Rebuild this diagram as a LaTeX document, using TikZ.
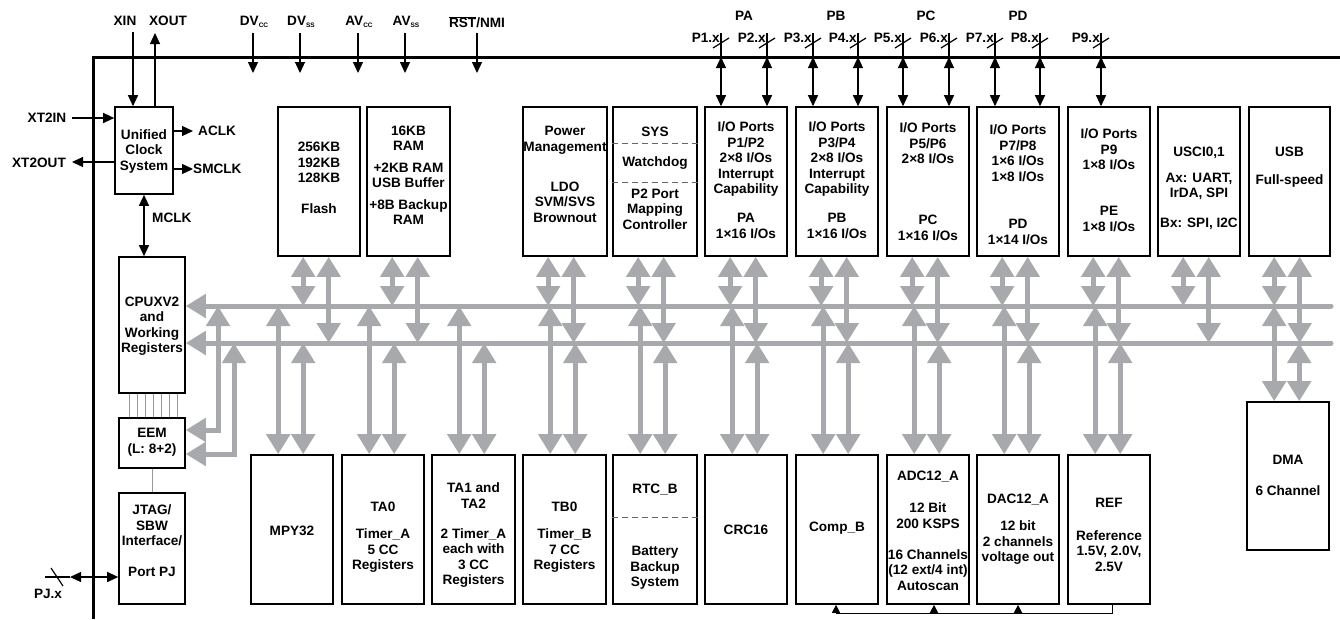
\documentclass[tikz,border=0pt]{standalone}
\usepackage{fontspec}
\setmainfont{Liberation Sans}
\usetikzlibrary{arrows.meta,fit,calc}
\definecolor{busgray}{RGB}{167,169,172}
\newcommand\subsc[1]{\raisebox{-2.5pt}{\fontsize{6.5}{7}\selectfont #1}}
\tikzset{
  bh/.tip={Triangle[width=23pt,length=20pt]},
  sh/.tip={Triangle[width=10pt,length=11pt]},
  th/.tip={Triangle[width=8pt,length=8pt]},
  blk/.style={draw=black, line width=1.6pt, inner sep=0pt},
  txt/.style={font=\fontsize{13.6}{15.5}\selectfont\bfseries, align=center, inner sep=0pt, text=black},
  busln/.style={draw=busgray, line width=5pt},
  busarr/.style={busln, {bh}-{bh}},
  sig/.style={draw=black, line width=1.2pt},
  sigarr/.style={sig, -{sh}},
  sigdbl/.style={sig, {sh}-{sh}},
  thinln/.style={draw=black, line width=1pt},
  thinarr/.style={thinln, -{th}},
  dsh/.style={draw=black!60, line width=1pt, dash pattern=on 6pt off 4pt},
  hair/.style={draw=black!40, line width=0.7pt},
}
\begin{document}
\begin{tikzpicture}[x=1pt,y=-1pt]
\useasboundingbox (0,0) rectangle (1340,619);
% outer border
\coordinate (bl) at (93,619); \coordinate (tr) at (1340,57);
\draw[line width=3pt] (bl) |- (tr);
\coordinate (brd) at (93,57);

% ---------- boxes ----------
\node[blk, fit={(115,107)(173,194)}] (clk) {};
\node[blk, fit={(119,257)(185,393)}] (cpu) {};
\node[blk, fit={(119,418)(185,468)}] (eem) {};
\node[blk, fit={(119,493)(185,604)}] (jtag) {};
\node[blk, fit={(278,107)(360,256)}] (flash) {};
\node[blk, fit={(367,107)(450,256)}] (ram) {};
\node[blk, fit={(523,107)(607,256)}] (pwr) {};
\node[blk, fit={(613,107)(697,256)}] (sys) {};
\node[blk, fit={(705,107)(787,256)}] (pa) {};
\node[blk, fit={(796,107)(878,256)}] (pb) {};
\node[blk, fit={(887,107)(969,256)}] (pc) {};
\node[blk, fit={(977,107)(1059,256)}] (pd) {};
\node[blk, fit={(1068,107)(1150,256)}] (pe) {};
\node[blk, fit={(1158,107)(1240,256)}] (usci) {};
\node[blk, fit={(1249,107)(1330,256)}] (usb) {};
\node[blk, fit={(251,455)(333,604)}] (mpy) {};
\node[blk, fit={(342,455)(424,604)}] (ta0) {};
\node[blk, fit={(432,455)(515,604)}] (ta1) {};
\node[blk, fit={(523,455)(606,604)}] (tb0) {};
\node[blk, fit={(613,455)(697,604)}] (rtc) {};
\node[blk, fit={(705,455)(787,604)}] (crc) {};
\node[blk, fit={(796,455)(878,604)}] (comp) {};
\node[blk, fit={(887,455)(969,604)}] (adc) {};
\node[blk, fit={(977,455)(1059,604)}] (dac) {};
\node[blk, fit={(1068,455)(1150,604)}] (ref) {};
\node[blk, fit={(1247,402)(1329,550)}] (dma) {};

% dashed separators
\draw[dsh] (sys.west |- 0,143) -- (sys.east |- 0,143);
\draw[dsh] (sys.west |- 0,182) -- (sys.east |- 0,182);
\draw[dsh] (rtc.west |- 0,517) -- (rtc.east |- 0,517);

% ---------- buses ----------
\coordinate (ub) at (1331,306);
\coordinate (lb) at (1331,343);
\draw[busln, line cap=round, -{bh}] (ub) -- (ub -| cpu.east);
\draw[busln, line cap=round, -{bh}] (lb) -- (lb -| cpu.east);
\foreach \b in {flash,ram,pwr,sys,pa,pb,pc,pd,pe,usci,usb}{
  \path ($(\b.south west)+(26,0)$) coordinate (\b-L) ($(\b.south west)+(51.5,0)$) coordinate (\b-R);
  \draw[busarr] (\b-L) -- (\b-L |- ub);
  \draw[busarr] (\b-R) -- (\b-R |- lb);
}
\foreach \b in {mpy,ta0,ta1,tb0,rtc,crc,comp,adc,dac,ref,dma}{
  \path ($(\b.north west)+(28,0)$) coordinate (\b-L) ($(\b.north west)+(53,0)$) coordinate (\b-R);
  \draw[busarr] (\b-L |- ub) -- (\b-L);
  \draw[busarr] (\b-R |- lb) -- (\b-R);
}
\coordinate (f1) at (218,430); \coordinate (f2) at (234,454);
\draw[busarr] (f1 |- ub) -- (f1) -- (f1 -| eem.east);
\draw[busarr] (f2 |- lb) -- (f2) -- (f2 -| eem.east);

% CPU - EEM - JTAG thin lines
\foreach \x in {129,137,145,153,161,169,177}
  \draw[hair] (\x,0 |- cpu.south) -- (\x,0 |- eem.north);
\draw[hair] (eem.south) -- (jtag.north);

% ---------- clock signals ----------
\coordinate (xin) at (133,32);  \draw[sigarr] (xin) -- (xin |- clk.north);
\coordinate (xout) at (155,33); \draw[sigarr] (xout |- clk.north) -- (xout);
\coordinate (xt2in) at (72,118);  \draw[sigarr] (xt2in) -- (xt2in -| clk.west);
\coordinate (xt2out) at (72,162); \draw[sigarr] (xt2out -| clk.west) -- (xt2out);
\coordinate (aclk) at (193,131);  \draw[sigarr] (aclk -| clk.east) -- (aclk);
\coordinate (smclk) at (193,169); \draw[sigarr] (smclk -| clk.east) -- (smclk);
\draw[sigdbl] (clk.south) -- (clk.south |- cpu.north);

\node[txt] (lxin) at (125,21) {XIN};
\node[txt] (lxout) at (168,21) {XOUT};
\node[txt] (lxt2in) at (47,118) {XT2IN};
\node[txt] (lxt2out) at (39,163) {XT2OUT};
\node[txt, anchor=west] (laclk) at (198,131) {ACLK};
\node[txt, anchor=west] (lsmclk) at (193,169) {SMCLK};
\node[txt, anchor=west] (lmclk) at (152,218) {MCLK};

% ---------- supply pins ----------
\coordinate (pintip) at (0,73);
\foreach \n/\x in {dvcc/253,dvss/300,avcc/358,avss/405,rst/477}{
  \coordinate (\n) at (\x,33);
  \draw[sigarr] (\n) -- (\n |- pintip);
}
\node[txt] (ldvcc) at (254,22) {DV\subsc{CC}};
\node[txt] (ldvss) at (301,22) {DV\subsc{SS}};
\node[txt] (lavcc) at (359,22) {AV\subsc{CC}};
\node[txt] (lavss) at (406,22) {AV\subsc{SS}};
\node[txt] (lrst) at (477,22) {$\overline{\mbox{RST}}$/NMI};

% ---------- ports ----------
\foreach \n/\x/\b in {P1/721/pa,P2/767/pa,P3/813/pb,P4/858/pb,P5/903/pc,P6/949/pc,P7/995/pd,P8/1040/pd,P9/1101/pe}{
  \coordinate (\n) at (\x,33);
  \draw[sig] (\n) -- (\n |- brd);
  \draw[sigdbl] (\n |- brd) -- (\n |- \b.north);
  \draw[sig] ($(\n)+(-8,15)$) -- ($(\n)+(8,5)$);
  \node[txt, anchor=east] (l\n) at ($(\n)+(-1,5)$) {\n.x};
}
\node[txt] (lpa) at (744,16) {PA};
\node[txt] (lpb) at (836,16) {PB};
\node[txt] (lpc) at (926,16) {PC};
\node[txt] (lpd) at (1018,16) {PD};

% PJ
\coordinate (pjx) at (45,577); \coordinate (pjt) at (70,577);
\draw[sig] (pjx) -- (pjt);
\draw[sigdbl] (pjt) -- (pjt -| jtag.west);
\draw[sig] (51,568) -- (63,586);
\node[txt] (lpj) at (48,594) {PJ.x};

% analog bus
\coordinate (ab) at (836,613); \coordinate (adcb) at (934,613);
\coordinate (dacb) at (1018,613); \coordinate (refb) at (1112,613);
\draw[thinln] (refb |- ref.south) -- (refb) -- (ab);
\draw[thinarr] (ab) -- (ab |- comp.south);
\draw[thinarr] (adcb) -- (adcb |- adc.south);
\draw[thinarr] (dacb) -- (dacb |- dac.south);

% ---------- box texts ----------
\node[txt] (tclk) at (144,151) {Unified\\Clock\\System};
\node[txt] (tcpu) at (152,326) {CPUXV2\\and\\Working\\Registers};
\node[txt] (teem) at (152,442) {EEM\\(L: 8+2)};
\node[txt] (tjtag) at (152,541) {JTAG/\\SBW\\Interface/\\[15.5pt]Port PJ};
\node[txt] (tflash) at (319,178) {256KB\\192KB\\128KB\\[15.5pt]Flash};
\node[txt] (tram) at (408.5,175) {16KB\\RAM\\[6pt]+2KB RAM\\USB Buffer\\[6pt]+8B Backup\\RAM};
\node[txt] (tpwr1) at (565,140.5) {Power\\Management};
\node[txt] (tpwr2) at (565,202) {LDO\\SVM/SVS\\Brownout};
\node[txt] (tsys1) at (655,132) {SYS};
\node[txt] (tsys2) at (655,163) {Watchdog};
\node[txt] (tsys3) at (655,209) {P2 Port\\Mapping\\Controller};
\node[txt] (tpa1) at (746,159) {I/O Ports\\P1/P2\\2×8 I/Os\\Interrupt\\Capability};
\node[txt] (tpa2) at (746,226) {PA\\1×16 I/Os};
\node[txt] (tpb1) at (837,159) {I/O Ports\\P3/P4\\2×8 I/Os\\Interrupt\\Capability};
\node[txt] (tpb2) at (837,226) {PB\\1×16 I/Os};
\node[txt] (tpc1) at (928,143.5) {I/O Ports\\P5/P6\\2×8 I/Os};
\node[txt] (tpc2) at (928,228) {PC\\1×16 I/Os};
\node[txt] (tpd1) at (1018,153) {I/O Ports\\P7/P8\\1×6 I/Os\\1×8 I/Os};
\node[txt] (tpd2) at (1018,232) {PD\\1×14 I/Os};
\node[txt] (tpe1) at (1109,149.5) {I/O Ports\\P9\\1×8 I/Os};
\node[txt] (tpe2) at (1109,219) {PE\\1×8 I/Os};
\node[txt] (tusci1) at (1199,153) {USCI0,1};
\node[txt] (tusci2) at (1199,186.5) {Ax: UART,\\IrDA, SPI};
\node[txt] (tusci3) at (1199,224) {Bx: SPI, I2C};
\node[txt] (tusb1) at (1289.5,152) {USB};
\node[txt] (tusb2) at (1289.5,181) {Full-speed};

\node[txt] (tmpy) at (292,531) {MPY32};
\node[txt] (tta01) at (383,507) {TA0};
\node[txt] (tta02) at (383,551) {Timer\_A\\5 CC\\Registers};
\node[txt] (tta11) at (473.5,495.5) {TA1 and\\TA2};
\node[txt] (tta12) at (473.5,558) {2 Timer\_A\\each with\\3 CC\\Registers};
\node[txt] (ttb01) at (564.5,507) {TB0};
\node[txt] (ttb02) at (564.5,551) {Timer\_B\\7 CC\\Registers};
\node[txt] (trtc1) at (655,490) {RTC\_B};
\node[txt] (trtc2) at (655,568) {Battery\\Backup\\System};
\node[txt] (tcrc) at (746,530) {CRC16};
\node[txt] (tcomp) at (837,528) {Comp\_B};
\node[txt] (tadc1) at (928,477) {ADC12\_A};
\node[txt] (tadc2) at (928,515.5) {12 Bit\\200 KSPS};
\node[txt] (tadc3) at (928,570) {16 Channels\\(12 ext/4 int)\\Autoscan};
\node[txt] (tdac1) at (1018,500) {DAC12\_A};
\node[txt] (tdac2) at (1018,543) {12 bit\\2 channels\\voltage out};
\node[txt] (tref1) at (1109,503) {REF};
\node[txt] (tref2) at (1109,551) {Reference\\1.5V, 2.0V,\\2.5V};
\node[txt] (tdma1) at (1288,460) {DMA};
\node[txt] (tdma2) at (1288,491) {6 Channel};
\end{tikzpicture}
\end{document}
